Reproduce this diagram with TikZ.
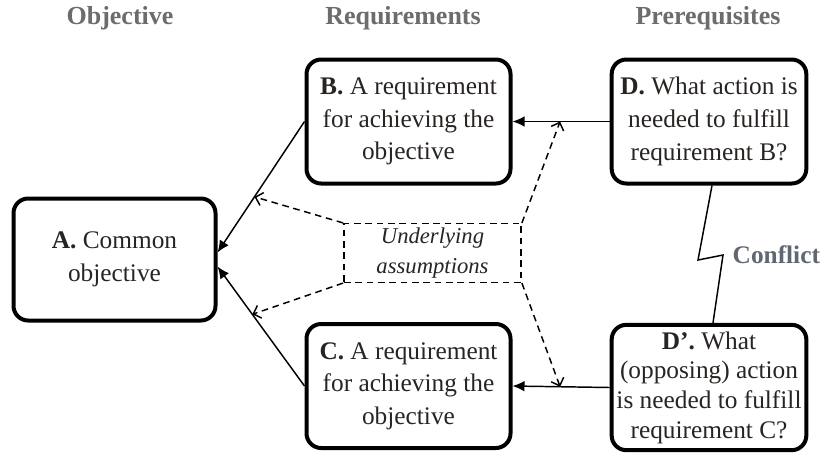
\documentclass[tikz,border=0pt]{standalone}
\usepackage{fontspec}
\setmainfont{Liberation Serif}
\usetikzlibrary{arrows.meta,calc}
\definecolor{headgray}{RGB}{108,108,108}
\definecolor{conflictgray}{RGB}{96,102,114}
\definecolor{bodyink}{RGB}{40,36,34}
\begin{document}
\begin{tikzpicture}[x=0.75pt,y=-0.75pt,
  cloudbox/.style={draw, line width=3pt, rounded corners=11pt, align=center,
    inner sep=0pt, text=bodyink, font=\fontsize{19}{24.5}\selectfont},
  header/.style={font=\fontsize{19.5}{22}\selectfont\bfseries, text=headgray},
  link/.style={line width=1.1pt, -{Latex[length=9pt,width=8pt]}},
  hint/.style={line width=1.1pt, dash pattern=on 5pt off 3.5pt,
    -{Straight Barb[length=5pt,width=10pt]}},
  assumptionbox/.style={draw, line width=1.1pt, dash pattern=on 5pt off 3.5pt,
    align=center, inner sep=0pt, minimum width=133pt, minimum height=44pt,
    text=bodyink, font=\fontsize{17}{22.5}\selectfont\itshape},
]
\useasboundingbox (0,0) rectangle (824,455);

% column headings
\node[header] (hObj) at (120,18) {Objective};
\node[header] (hReq) at (403,18) {Requirements};
\node[header] (hPre) at (708,18) {Prerequisites};

% the five boxes of the cloud
\node[cloudbox, minimum width=151.5pt, minimum height=91.5pt] (A) at (114.5,259.5)
  {\textbf{A.} Common\\objective};
\node[cloudbox, minimum width=153pt, minimum height=93pt] (B) at (408.5,121.5)
  {\textbf{B.} A requirement\\for achieving the\\objective};
\node[cloudbox, minimum width=153pt, minimum height=93pt] (C) at (408.5,386)
  {\textbf{C.} A requirement\\for achieving the\\objective};
\node[cloudbox, minimum width=146pt, minimum height=93pt] (D) at (709,121.5)
  {\textbf{D.} What action is\\needed to fulfill\\requirement B?};
\node[cloudbox, minimum width=146pt, minimum height=94pt,
  font=\fontsize{19}{22.3}\selectfont] (Dp) at (709,387.5)
  {\textbf{D’.} What\\(opposing) action\\is needed to fulfill\\requirement C?};

% assumptions box
\node[assumptionbox] (U) at (432.5,253) {Underlying\\assumptions};

% arrival points on box A
\coordinate (Aup) at ($(A.east)+(0,-7)$);
\coordinate (Adown) at ($(A.east)+(0,7)$);

% necessity arrows
\draw[link] (B.west) -- (Aup);
\draw[link] (C.west) -- (Adown);
\draw[link] (D.west) -- (B.east);
\draw[link] (Dp.west) -- (C.east);

% points on the arrows where the assumptions act
\coordinate (onBA) at ($(B.west)!0.575!(Aup)$);
\coordinate (onCA) at ($(C.west)!0.60!(Adown)$);
\coordinate (onDB) at ($(B.east)!0.49!(D.west)$);
\coordinate (onDC) at ($(C.east)!0.49!(Dp.west)$);

\draw[hint] (U.north west) -- (onBA);
\draw[hint] (U.south west) -- (onCA);
\draw[hint] (U.north east) -- (onDB);
\draw[hint] (U.south east) -- (onDC);

% conflict between D and D'
\coordinate (z1) at (698,260);
\coordinate (z2) at (723,255);
\draw[line width=1.1pt] ($(D.south)+(3,0)$) -- (z1) -- (z2) -- ($(Dp.north)+(4,0)$);
\node[font=\fontsize{19}{22}\selectfont\bfseries, text=conflictgray, anchor=west]
  (conflict) at (728,255) {Conflict};
\end{tikzpicture}
\end{document}
